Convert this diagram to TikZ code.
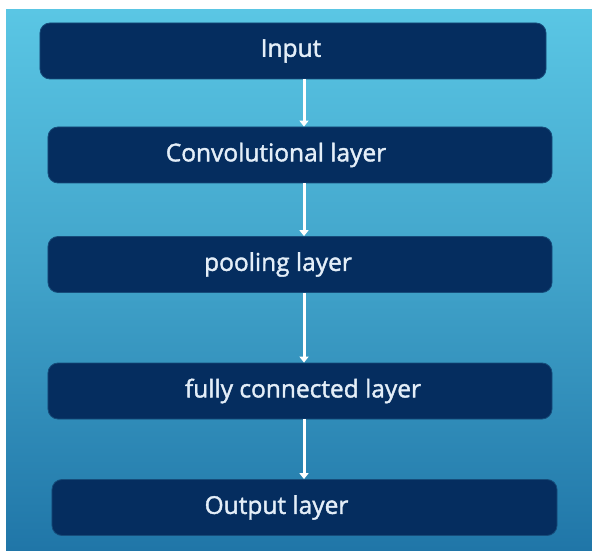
\documentclass[tikz,border=0pt]{standalone}
\usepackage{fontspec}
\setmainfont{Open Sans}
\newfontfamily\layerfont{Open Sans}[FakeBold=1.6]
\usepackage{tikz}
\usetikzlibrary{arrows.meta, calc}

\definecolor{bgtop}{RGB}{90,198,228}
\definecolor{bgbot}{RGB}{32,118,168}
\definecolor{boxfill}{RGB}{5,45,95}
\definecolor{boxtext}{RGB}{228,238,248}

\begin{document}
\begin{tikzpicture}[x=1bp, y=-1bp,
        layerbox/.style={draw=boxfill!80!bgtop, line width=0.8bp, fill=boxfill, rounded corners=10bp,
            inner sep=0pt, minimum height=56bp},
        layertext/.style={text=boxtext, font=\fontsize{24.5bp}{28bp}\layerfont},
        flowarrow/.style={draw=white, line width=3bp, -{Triangle[width=9bp, length=6bp]}}]
        \useasboundingbox (0,0) rectangle (592,552);
        \shade[top color=bgtop, bottom color=bgbot, middle color=bgtop!55!bgbot] (6,10) rectangle (592,550);

        % the five layers, top to bottom
        \node[layerbox, minimum width=506bp, label={[layertext, xshift=-2bp]center:Input}] (input) at (293,51) {};
        \node[layerbox, minimum width=504bp, label={[layertext, xshift=-24bp]center:Convolutional layer}] (conv) at (300,155) {};
        \node[layerbox, minimum width=504bp, label={[layertext, xshift=-22bp]center:pooling layer}] (pool) at (300,264.5) {};
        \node[layerbox, minimum width=504bp, label={[layertext, xshift=3bp]center:fully connected layer}] (fc) at (300,391) {};
        \node[layerbox, minimum width=505bp, label={[layertext, xshift=-28bp]center:Output layer}] (out) at (304.5,507.5) {};

        \coordinate (axis) at (304,0);
        \foreach \a/\b in {input/conv, conv/pool, pool/fc, fc/out} {
            \draw[flowarrow] (\a.south -| axis) -- (\b.north -| axis);
        }
    \end{tikzpicture}
\end{document}
